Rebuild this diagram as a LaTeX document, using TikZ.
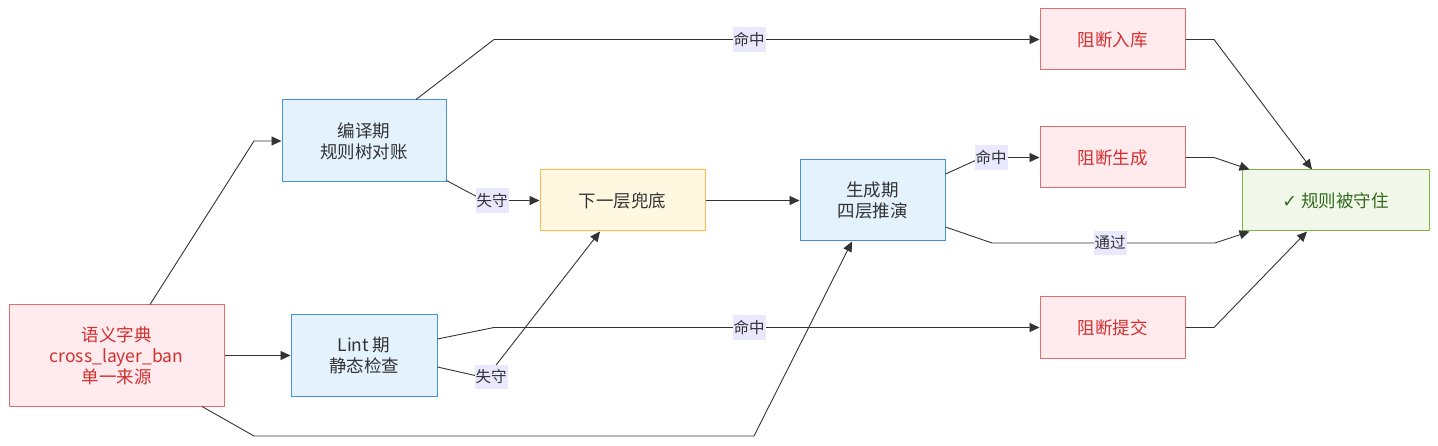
\documentclass[tikz,border=0pt]{standalone}
\usepackage{fontspec}
\setmainfont{Noto Sans CJK SC}
\newfontfamily\symfont{DejaVu Sans}
\usetikzlibrary{arrows.meta,calc}
\definecolor{redfill}{HTML}{FFEBEE}
\definecolor{redline}{HTML}{E06C75}
\definecolor{redtext}{HTML}{D32F2F}
\definecolor{bluefill}{HTML}{E3F2FD}
\definecolor{blueline}{HTML}{4A90D9}
\definecolor{yelfill}{HTML}{FFF8E1}
\definecolor{yelline}{HTML}{FFB74D}
\definecolor{grnfill}{HTML}{F1F8E9}
\definecolor{grnline}{HTML}{7CB342}
\definecolor{grntext}{HTML}{33691E}
\definecolor{ink}{HTML}{333333}
\definecolor{lblfill}{HTML}{E8E8FF}
\tikzset{
  box/.style={draw, line width=1pt, align=center, inner sep=0pt, font=\fontsize{17.5}{21}\selectfont},
  redbox/.style={box, fill=redfill, draw=redline, text=redtext},
  bluebox/.style={box, fill=bluefill, draw=blueline, text=ink},
  yelbox/.style={box, fill=yelfill, draw=yelline, text=ink},
  grnbox/.style={box, fill=grnfill, draw=grnline, text=grntext},
  lbl/.style={fill=lblfill, text=ink, inner xsep=1pt, inner ysep=5pt, font=\fontsize{15.5}{18}\selectfont},
  conn/.style={draw=ink, line width=0.9pt},
  arr/.style={conn, -{Triangle[length=10pt,width=9pt]}},
}
\begin{document}
\begin{tikzpicture}[x=1pt,y=-1pt]
\useasboundingbox (0,0) rectangle (1438,446);
% nodes
\node[redbox, minimum width=215pt, minimum height=101pt] (dict) at (116.5,355.5) {语义字典\\cross\_layer\_ban\\单一来源};
\node[bluebox, minimum width=164pt, minimum height=82pt] (compile) at (364,141) {编译期\\规则树对账};
\node[bluebox, minimum width=146pt, minimum height=81pt] (lint) at (364,355.5) {Lint 期\\静态检查};
\node[yelbox, minimum width=165pt, minimum height=61pt] (next) at (622.5,200.5) {下一层兜底};
\node[bluebox, minimum width=145pt, minimum height=81pt] (gen) at (872.5,200.5) {生成期\\四层推演};
\node[redbox, minimum width=145pt, minimum height=61pt] (b1) at (1112.5,39.5) {阻断入库};
\node[redbox, minimum width=145pt, minimum height=61pt] (b2) at (1112.5,157.5) {阻断生成};
\node[redbox, minimum width=145pt, minimum height=61pt] (b3) at (1112.5,327.5) {阻断提交};
\node[grnbox, minimum width=187pt, minimum height=61pt] (ok) at (1335.5,200.5) {{\symfont ✓} 规则被守住};
% connectors
\draw[arr] ([xshift=33.5pt]dict.north) -- (254,141) -- (compile.west);
\draw[arr] (dict.east) -- (lint.west);
\draw[arr] ([xshift=85.5pt]dict.south) -- (254,436) -- (754,436) -- ([xshift=-20.5pt]gen.south);
\draw[arr] ([xshift=52pt]compile.north) -- (494,39.5) -- (b1.west);
\draw[arr] ([yshift=2pt]compile.south east) -- (484,200.5) -- (next.west);
\draw[arr] ([yshift=16.5pt]lint.east) -- (494,327.5) -- (b3.west);
\draw[arr] ([yshift=-11.5pt]lint.east) -- (486,378) -- ([xshift=-22.5pt]next.south);
\draw[arr] (next.east) -- (gen.west);
\draw[arr] ([yshift=26.5pt]gen.east) -- (982,157.5) -- (b2.west);
\draw[arr] ([yshift=-26.5pt]gen.east) -- (992,243) -- (1215,243) -- ([xshift=8pt]ok.south west);
\draw[arr] (b1.east) -- (1214,39.5) -- ([xshift=-23.5pt]ok.north);
\draw[arr] (b2.east) -- (1214,157.5) -- ([xshift=8pt]ok.north west);
\draw[arr] (b3.east) -- (1214,327.5) -- ([xshift=-28.5pt]ok.south);
% edge labels
\node[lbl] (l1) at (749,39.5) {命中};
\node[lbl] (l2) at (492,200.5) {失守};
\node[lbl] (l3) at (749,327.5) {命中};
\node[lbl] (l4) at (491,377) {失守};
\node[lbl] (l5) at (991,157.5) {命中};
\node[lbl] (l6) at (1110,243) {通过};
\end{tikzpicture}
\end{document}
